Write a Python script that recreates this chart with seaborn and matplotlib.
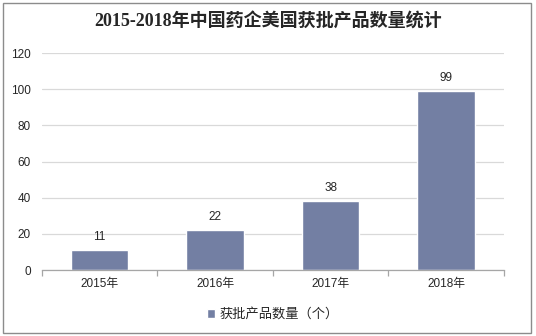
import matplotlib
matplotlib.use("Agg")
import matplotlib.pyplot as plt
import seaborn as sns
import pandas as pd
from matplotlib.patches import Rectangle
from matplotlib.ticker import FixedLocator

years = ["2015年", "2016年", "2017年", "2018年"]
counts = [11, 22, 38, 99]
series_name = "获批产品数量（个）"
title = "2015-2018年中国药企美国获批产品数量统计"
yticks = [0, 20, 40, 60, 80, 100, 120]

sns.set_theme(style="white")
plt.rcParams['font.family'] = ['Liberation Sans', 'Noto Sans CJK SC', 'DejaVu Sans']

df = pd.DataFrame({"year": years, "count": counts, "series": series_name})

fig = plt.figure(figsize=(5.36, 3.36), dpi=100)
ax = fig.add_axes([0.078, 0.196, 0.862, 0.646])
bar_color = "#737FA3"
sns.barplot(data=df, x="year", y="count", hue="series", palette=[bar_color],
            width=0.5, ax=ax, saturation=1, legend=True)

ax.set_ylim(0, 120)
ax.set_xlim(-0.5, 3.5)
ax.set_yticks(yticks)
ax.yaxis.grid(True, color="#D9D9D9", linewidth=0.9)
ax.set_axisbelow(True)
for s in ["top", "right", "left"]:
    ax.spines[s].set_visible(False)
ax.spines["bottom"].set_color("#A6A6A6")
ax.spines["bottom"].set_linewidth(0.9)
ax.set_xlabel("")
ax.set_ylabel("")
ax.tick_params(axis="y", length=0, labelsize=8.5, pad=8, colors="#262626")
ax.tick_params(axis="x", which="major", length=0, labelsize=8.5, pad=6, colors="#262626")
ax.xaxis.set_minor_locator(FixedLocator([-0.5, 0.5, 1.5, 2.5, 3.5]))
ax.tick_params(axis="x", which="minor", length=4, color="#A6A6A6", width=0.9, bottom=True)

for c in ax.containers:
    ax.bar_label(c, labels=[str(v) for v in counts], padding=5, fontsize=8.5, color="#262626")

ax.legend(loc="upper center", bbox_to_anchor=(0.5, -0.12), frameon=False,
          fontsize=9.5, handlelength=0.6, handleheight=0.6, handletextpad=0.3,
          labelcolor="#262626")

fig.text(0.5, 0.935, title, ha="center", va="center", fontsize=13, fontweight="bold",
         color="#262626", family=['Liberation Serif', 'Noto Sans CJK SC'])
fig.add_artist(Rectangle((0.006, 0.009), 0.985, 0.982, transform=fig.transFigure,
                         fill=False, edgecolor="#8C8C8C", linewidth=1))

fig.savefig("out.png", dpi=100)
